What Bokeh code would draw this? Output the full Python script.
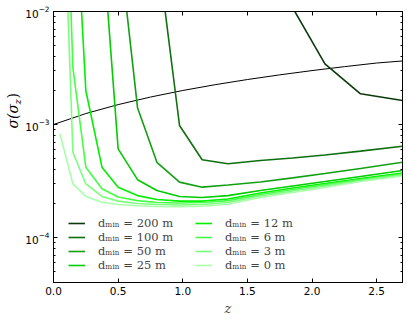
import math
from bokeh.plotting import figure
from bokeh.layouts import row
from bokeh.models import (LogAxis, LinearAxis, Range1d, Legend, LegendItem, Label,
                          FixedTicker, LogTicker, NumeralTickFormatter, CustomJSTickFormatter)
from bokeh.embed import file_html
from bokeh.resources import INLINE

nan = float("nan")

# redshift nodes shared by all d_min curves
z_nodes = [0.05, 0.15, 0.25, 0.375, 0.5, 0.65, 0.8, 0.975, 1.15, 1.35, 1.6, 1.85, 2.1, 2.375, 2.7]

sig_200 = [nan, nan, nan, nan, nan, nan, nan, nan, nan, nan, nan, 1.08e-2, 3.44e-3, 1.87e-3, 1.63e-3]
sig_100 = [nan, nan, nan, nan, nan, nan, 3.8e-2, 9.8e-4, 4.88e-4, 4.49e-4, 4.8e-4, 5.06e-4, 5.37e-4, 5.82e-4, 6.43e-4]
sig_50 = [nan, nan, nan, nan, 4.87e-2, 1.41e-3, 4.63e-4, 3.09e-4, 2.79e-4, 2.92e-4, 3.1e-4, 3.37e-4, 3.68e-4, 4.08e-4, 4.63e-4]
sig_25 = [nan, nan, nan, 4.9e-2, 6.09e-4, 3.25e-4, 2.61e-4, 2.31e-4, 2.26e-4, 2.35e-4, 2.61e-4, 2.86e-4, 3.13e-4, 3.47e-4, 3.92e-4]
sig_12 = [nan, 0.27, 2.0e-3, 4.19e-4, 2.79e-4, 2.35e-4, 2.17e-4, 2.10e-4, 2.10e-4, 2.19e-4, 2.48e-4, 2.74e-4, 3.01e-4, 3.33e-4, 3.72e-4]
sig_6 = [7.8, 3.19e-3, 4.19e-4, 2.70e-4, 2.28e-4, 2.12e-4, 2.04e-4, 2.02e-4, 2.04e-4, 2.12e-4, 2.40e-4, 2.66e-4, 2.94e-4, 3.26e-4, 3.65e-4]
sig_3 = [1.0, 5.69e-4, 2.98e-4, 2.31e-4, 2.10e-4, 2.0e-4, 1.96e-4, 1.94e-4, 1.96e-4, 2.04e-4, 2.33e-4, 2.58e-4, 2.86e-4, 3.19e-4, 3.57e-4]
sig_0 = [8.28e-4, 2.98e-4, 2.31e-4, 2.05e-4, 1.96e-4, 1.91e-4, 1.88e-4, 1.87e-4, 1.89e-4, 1.97e-4, 2.26e-4, 2.50e-4, 2.77e-4, 3.13e-4, 3.50e-4]

# reference (black) curve
z_ref = [0.0, 0.25, 0.5, 0.75, 1.0, 1.25, 1.5, 1.75, 2.0, 2.25, 2.5, 2.7]
sig_ref = [1.0e-3, 1.25e-3, 1.5e-3, 1.75e-3, 2.0e-3, 2.25e-3, 2.5e-3, 2.75e-3, 3.0e-3, 3.25e-3, 3.5e-3, 3.65e-3]

labels = ["dₘᵢₙ = 200 m", "dₘᵢₙ = 100 m", "dₘᵢₙ = 50 m", "dₘᵢₙ = 25 m",
          "dₘᵢₙ = 12 m", "dₘᵢₙ = 6 m", "dₘᵢₙ = 3 m", "dₘᵢₙ = 0 m"]
series = [sig_200, sig_100, sig_50, sig_25, sig_12, sig_6, sig_3, sig_0]
colors = ["#0a3a0a", "#0f7010", "#12a012", "#00cc00", "#00f000", "#44ff44", "#7cff7c", "#aaffaa"]

x_ticks = [0.0, 0.5, 1.0, 1.5, 2.0, 2.5]

LW = 22  # width of the strip that carries the y-axis title

p = figure(width=407 - LW, height=320, x_range=Range1d(0, 2.7), y_range=Range1d(4e-5, 1e-2),
           y_axis_type="log", output_backend="svg", toolbar_location=None,
           min_border_left=51 - LW, min_border_right=5, min_border_top=11, min_border_bottom=38)
p.xgrid.visible = False
p.ygrid.visible = False
p.outline_line_color = "black"
p.outline_line_width = 1
p.background_fill_color = "white"
p.border_fill_color = "white"

FONT = "DejaVu Sans"

xa = p.xaxis[0]
xa.ticker = FixedTicker(ticks=x_ticks)
xa.formatter = NumeralTickFormatter(format="0.0")
xa.major_tick_in = 4
xa.major_tick_out = 0
xa.minor_tick_line_color = None
xa.major_label_text_font = FONT
xa.major_label_text_font_size = "10.5px"
xa.major_label_text_color = "black"
xa.axis_line_color = "black"
xa.major_label_standoff = 4
xa.axis_label = "z"
xa.axis_label_text_font = "DejaVu Serif"
xa.axis_label_text_font_style = "italic"
xa.axis_label_text_font_size = "13px"
xa.axis_label_standoff = 3

ya = p.yaxis[0]
ya.ticker = LogTicker(num_minor_ticks=10)
ya.major_tick_in = 4
ya.major_tick_out = 0
ya.minor_tick_in = 2
ya.minor_tick_out = 0
ya.major_label_text_font = FONT
ya.major_label_text_font_size = "10.5px"
ya.major_label_text_color = "black"
ya.axis_line_color = "black"
ya.major_label_standoff = 4

# mirrored ticks on top and right (no labels)
blank = CustomJSTickFormatter(code="return ''")
top = LinearAxis(ticker=FixedTicker(ticks=x_ticks), formatter=blank, major_tick_in=4,
                 major_tick_out=0, minor_tick_line_color=None, major_label_standoff=0,
                 axis_line_color="black")
right = LogAxis(ticker=LogTicker(num_minor_ticks=10), formatter=blank, major_tick_in=4,
                major_tick_out=0, minor_tick_in=2, minor_tick_out=0, major_label_standoff=0,
                axis_line_color="black")
p.add_layout(top, "above")
p.add_layout(right, "right")

p.line(z_ref, sig_ref, line_color="black", line_width=1)

renderers = []
for s, c in zip(series, colors):
    r = p.line(z_nodes, s, line_color=c, line_width=1.6)
    renderers.append(r)

leg_kw = dict(glyph_width=17, glyph_height=14, label_height=14, spacing=0, padding=0, margin=0,
              label_standoff=13, border_line_alpha=0, background_fill_alpha=0,
              label_text_font="DejaVu Serif", label_text_font_size="11.5px")
leg1 = Legend(items=[LegendItem(label=labels[i], renderers=[renderers[i]]) for i in range(4)],
              location=(15, 10), **leg_kw)
leg2 = Legend(items=[LegendItem(label=labels[i], renderers=[renderers[i]]) for i in range(4, 8)],
              location=(142, 10), **leg_kw)
p.add_layout(leg1, "center")
p.add_layout(leg2, "center")

# narrow strip on the left holding the y-axis title sigma(sigma_z)
t = figure(width=LW, height=320, x_range=Range1d(0, 1), y_range=Range1d(0, 1),
           output_backend="svg", toolbar_location=None,
           min_border_left=0, min_border_right=0, min_border_top=0, min_border_bottom=0)
t.axis.visible = False
t.grid.visible = False
t.outline_line_color = None
t.background_fill_color = "white"
t.border_fill_color = "white"

lab_kw = dict(x_units="screen", y_units="screen", angle=math.pi / 2, text_baseline="middle",
              text_align="left", text_font="DejaVu Serif", text_color="black")
t.add_layout(Label(x=12.5, y=154, text="σ(σ", text_font_style="italic", text_font_size="14px", **lab_kw))
t.add_layout(Label(x=16.5, y=178, text="z", text_font_style="italic", text_font_size="10px", **lab_kw))
t.add_layout(Label(x=12.5, y=184, text=")", text_font_size="14px", **lab_kw))

layout = row(t, p, spacing=0)
open("out.html", "w").write(file_html(layout, INLINE))
